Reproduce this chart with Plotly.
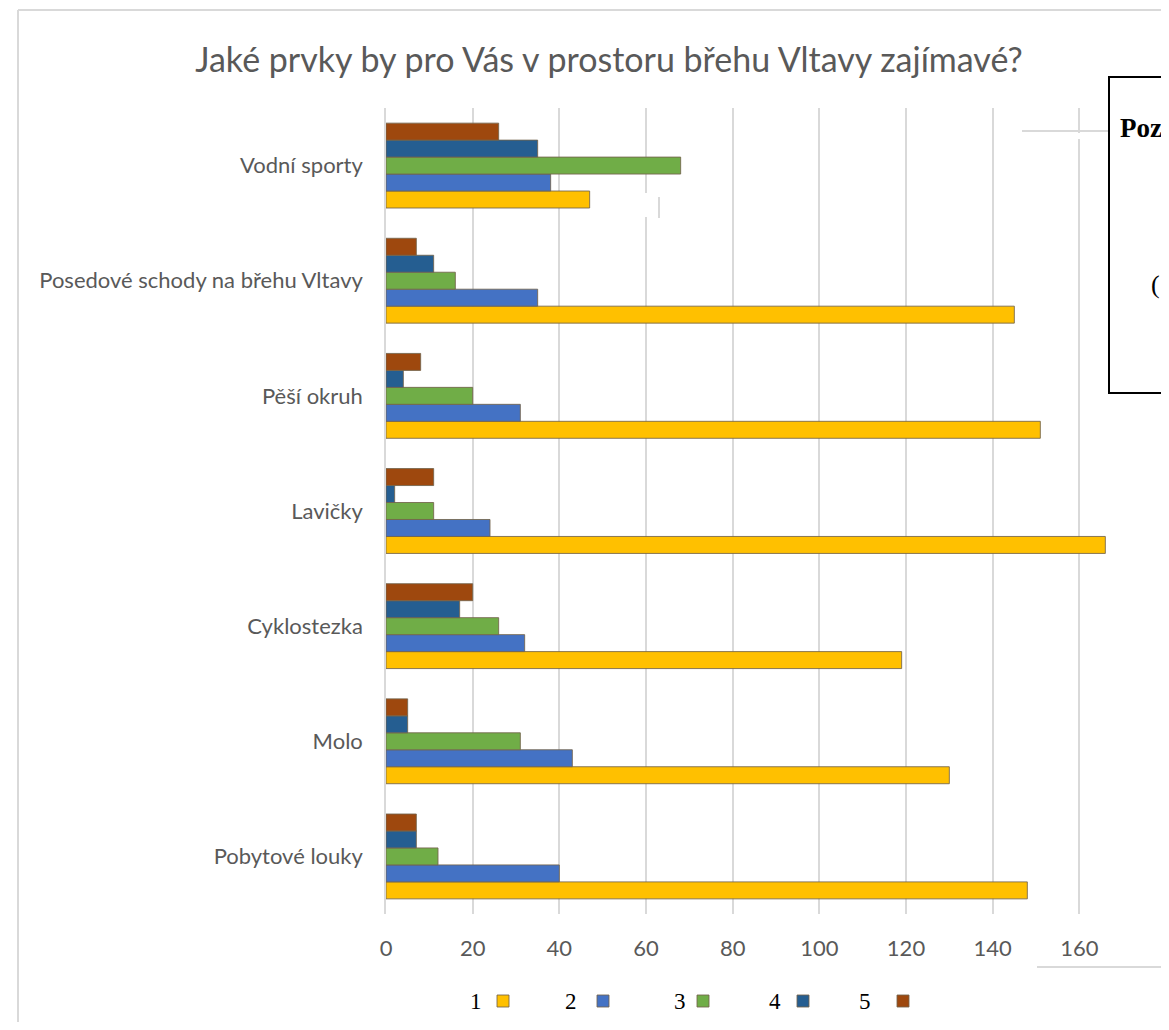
import plotly.graph_objects as go

# ---------------- data ----------------
categories = ["Vodní sporty", "Posedové schody na břehu Vltavy", "Pěší okruh",
              "Lavičky", "Cyklostezka", "Molo", "Pobytové louky"]  # top -> bottom
series_names = ["1", "2", "3", "4", "5"]
s1 = [47, 145, 151, 166, 119, 130, 148]
s2 = [38, 35, 31, 24, 32, 43, 40]
s3 = [68, 16, 20, 11, 26, 31, 12]
s4 = [35, 11, 4, 2, 17, 5, 7]
s5 = [26, 7, 8, 11, 20, 5, 7]
series_values = [s1, s2, s3, s4, s5]
colors = ["#FFC000", "#4472C4", "#70AD47", "#255E91", "#9E480E"]
x_ticks = [0, 20, 40, 60, 80, 100, 120, 140, 160, 180]

title_text = "Jaké prvky by pro Vás v prostoru břehu Vltavy zajímavé?"
note_text = "Poz"

# ---------------- layout geometry ----------------
# the page body has an 8px margin, so the figure is offset by 8px in the window
OFF = 8
W, H = 1169 - OFF, 1030 - 2 * OFF
PL, PR, PT, PB = 386 - OFF, 1166 - OFF, 108 - OFF, 914 - OFF   # plot area edges (figure px)


def px2x(px):  # window px -> paper x
    return (px - OFF - PL) / (PR - PL)


def py2y(py):  # window px -> paper y
    return (PB - (py - OFF)) / (PB - PT)


fig = go.Figure()
for name, vals, col in zip(series_names, series_values, colors):
    fig.add_trace(go.Bar(
        y=categories, x=vals, name="", orientation="h",
        marker=dict(color=col, line=dict(color="rgba(115,100,75,0.85)", width=1)),
        hovertemplate=name + ": %{x}<extra>%{y}</extra>",
    ))

gray = "#d9d9d9"
shapes = [
    # outer chart border
    dict(type="line", xref="paper", yref="paper", x0=px2x(18), x1=px2x(1190),
         y0=py2y(10), y1=py2y(10), line=dict(color=gray, width=2), layer="below"),
    dict(type="line", xref="paper", yref="paper", x0=px2x(18), x1=px2x(18),
         y0=py2y(10), y1=py2y(1040), line=dict(color=gray, width=2), layer="below"),
    # note box
    dict(type="rect", xref="paper", yref="paper", x0=px2x(1109), x1=px2x(1200),
         y0=py2y(77), y1=py2y(393), line=dict(color="black", width=2),
         fillcolor="white", layer="above"),
    # leader line to box
    dict(type="line", xref="paper", yref="paper", x0=px2x(1022), x1=px2x(1108),
         y0=py2y(131), y1=py2y(131), line=dict(color=gray, width=2), layer="above"),
    dict(type="rect", xref="paper", yref="paper", x0=px2x(1078), x1=px2x(1084),
         y0=py2y(133), y1=py2y(139), line=dict(width=0), fillcolor="white", layer="above"),
    # small artefact near first category
    dict(type="rect", xref="paper", yref="paper", x0=px2x(641), x1=px2x(656),
         y0=py2y(193), y1=py2y(217), line=dict(width=0), fillcolor="white", layer="above"),
    dict(type="line", xref="paper", yref="paper", x0=px2x(659), x1=px2x(659),
         y0=py2y(197), y1=py2y(218), line=dict(color=gray, width=2), layer="above"),
    # bottom right artefact line
    dict(type="line", xref="paper", yref="paper", x0=px2x(1037), x1=px2x(1190),
         y0=py2y(967), y1=py2y(967), line=dict(color=gray, width=2), layer="above"),
]

annotations = [
    dict(text="<b>" + note_text + "</b>", xref="paper", yref="paper",
         x=px2x(1118), y=py2y(128), xanchor="left", yanchor="middle", showarrow=False,
         font=dict(family="Liberation Serif", size=27, color="black")),
    dict(text="(", xref="paper", yref="paper",
         x=px2x(1149), y=py2y(284), xanchor="left", yanchor="middle", showarrow=False,
         font=dict(family="Liberation Serif", size=26, color="black")),
]
# legend labels (placed to the left of each legend symbol, as in the original)
legend_label_px = [476, 571, 680, 775, 865]
for lab, lx in zip(series_names, legend_label_px):
    annotations.append(dict(text=lab, xref="paper", yref="paper", x=px2x(lx), y=py2y(1001),
                            xanchor="center", yanchor="middle", showarrow=False,
                            font=dict(family="Liberation Serif", size=23, color="black")))

fig.update_layout(
    width=W, height=H,
    margin=dict(l=PL, r=W - PR, t=PT, b=H - PB, autoexpand=False),
    paper_bgcolor="white", plot_bgcolor="white",
    barmode="group", bargap=0.263, bargroupgap=0,
    title=dict(text=title_text, x=(609 - OFF) / W, xref="container", xanchor="center",
               y=1 - (60 - OFF) / H, yref="container", yanchor="middle",
               font=dict(family="Lato", size=34, color="#595959")),
    xaxis=dict(range=[0, 180], tickvals=x_ticks, showgrid=True, gridcolor=gray, gridwidth=1.5,
               zeroline=False, showline=False, ticks="outside", ticklen=15,
               tickcolor="rgba(0,0,0,0)", tickfont=dict(family="Lato", size=22, color="#595959")),
    yaxis=dict(categoryorder="array", categoryarray=categories[::-1], showgrid=False,
               showline=True, linecolor=gray, linewidth=1.5, ticks="outside", ticklen=17,
               tickcolor="rgba(0,0,0,0)", tickfont=dict(family="Lato", size=22, color="#595959")),
    showlegend=True,
    legend=dict(orientation="h", x=px2x(483), xanchor="left", y=py2y(1001), yanchor="middle",
                entrywidth=55, entrywidthmode="pixels", traceorder="normal",
                font=dict(family="Liberation Serif", size=20, color="black"),
                bgcolor="rgba(0,0,0,0)"),
    shapes=shapes, annotations=annotations,
)

fig.write_html("out.html")
